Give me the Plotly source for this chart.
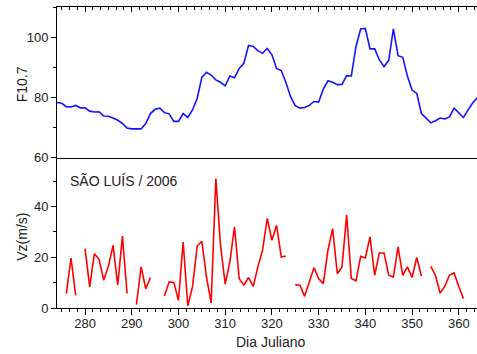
import plotly.graph_objects as go

# ---- data ----
f107_days = list(range(274, 365))
f107 = [78.3, 78.0, 76.9, 76.8, 77.3, 76.5, 76.5, 75.4, 75.1, 75.2,
        73.8, 73.7, 73.1, 72.4, 71.3, 69.8, 69.5, 69.5, 69.5, 71.3,
        74.6, 76.0, 76.4, 74.9, 74.5, 72.0, 72.0, 74.6, 73.3, 75.8,
        79.6, 86.6, 88.3, 87.4, 85.8, 85.0, 83.8, 87.1, 86.5, 89.6,
        91.3, 97.2, 96.9, 95.5, 94.6, 96.2, 94.1, 89.6, 88.9, 84.9,
        80.2, 77.2, 76.4, 76.6, 77.3, 78.6, 78.4, 82.7, 85.5, 85.0,
        84.2, 84.3, 87.2, 87.1, 96.9, 102.7, 102.9, 96.1, 96.1, 92.4,
        90.2, 92.2, 102.7, 93.8, 93.3, 87.1, 82.4, 81.3, 74.6, 73.1,
        71.5, 72.2, 73.1, 72.8, 73.5, 76.4, 75.0, 73.3, 75.8, 78.2, 79.9]

vz_days = list(range(276, 362))
vz = [5.7, 19.7, 5.0, None, 23.4, 8.3, 21.4, 19.2, 10.9, 16.4,
      24.7, 9.0, 28.3, 5.7, None, 1.3, 16.2, 7.6, 12.0, None,
      None, 4.7, 10.3, 10.1, 3.0, 26.0, 0.8, 8.3, 24.3, 26.3,
      12.2, 2.0, 51.0, 24.7, 9.4, 18.2, 32.0, 11.5, 9.0, 12.0,
      8.5, 16.2, 22.8, 35.3, 26.7, 32.6, 20.1, 20.5, None, 9.2,
      9.0, 4.6, 10.3, 15.9, 11.6, 9.6, 22.8, 31.3, 13.5, 16.2,
      36.6, 11.6, 10.7, 20.4, 19.7, 28.0, 12.9, 21.7, 21.7, 12.9,
      12.2, 24.1, 12.9, 16.2, 12.0, 19.9, 12.6, None, 16.4, 12.9,
      5.9, 8.5, 12.9, 13.8, 8.5, 3.7]

x_range = [274, 363.9]
f107_range = [60, 110]
vz_range = [0, 59.3]

FONT = "Arial, Liberation Sans, sans-serif"
TXT = "#222222"

fig = go.Figure()
fig.add_trace(go.Scatter(x=f107_days, y=f107, mode="lines", xaxis="x2", yaxis="y2",
                         line=dict(color="#1414ff", width=1.6), showlegend=False))
fig.add_trace(go.Scatter(x=vz_days, y=vz, mode="lines", xaxis="x", yaxis="y",
                         line=dict(color="#ff0000", width=1.6), connectgaps=False,
                         showlegend=False))

axcommon = dict(showgrid=False, zeroline=False, linecolor="black", linewidth=1,
                tickcolor="black", tickwidth=1,
                tickfont=dict(family=FONT, size=13, color=TXT))

fig.update_layout(
    width=477, height=354,
    margin=dict(l=57, r=0, t=7, b=46, autoexpand=False),
    paper_bgcolor="white", plot_bgcolor="white",
    xaxis=dict(domain=[0, 1], anchor="y", range=x_range, dtick=10, tick0=280,
               ticks="outside", ticklen=6, showline=True, ticklabelstandoff=-3,
               minor=dict(dtick=10/6, tick0=280, ticks="outside", ticklen=3,
                          tickcolor="black", tickwidth=1, showgrid=False),
               **axcommon),
    xaxis3=dict(overlaying="x", anchor="y", side="top", matches="x", range=x_range,
                dtick=10, tick0=280, ticks="inside", ticklen=5, showline=False,
                showticklabels=False,
                minor=dict(dtick=10/6, tick0=280, ticks="inside", ticklen=3,
                           tickcolor="black", tickwidth=1, showgrid=False),
                **axcommon),
    xaxis2=dict(domain=[0, 1], anchor="y2", side="top", matches="x", range=x_range,
                dtick=10, tick0=280, ticks="inside", ticklen=5, showline=True,
                mirror=True, showticklabels=False,
                minor=dict(dtick=10/6, tick0=280, ticks="inside", ticklen=3,
                           tickcolor="black", tickwidth=1, showgrid=False),
                **axcommon),
    yaxis=dict(domain=[0, 0.5], anchor="x", range=vz_range, dtick=20, tick0=0,
               ticks="outside", ticklen=5, showline=True,
               minor=dict(dtick=10, ticks="outside", ticklen=3, tickcolor="black",
                          tickwidth=1, showgrid=False),
               **axcommon),
    yaxis2=dict(domain=[0.5, 1], anchor="x2", range=f107_range, dtick=20, tick0=0,
                ticks="outside", ticklen=5, showline=True,
                minor=dict(dtick=10, ticks="outside", ticklen=3, tickcolor="black",
                           tickwidth=1, showgrid=False),
                **axcommon),
)

tfont = dict(family=FONT, size=14, color=TXT)
fig.add_annotation(text="F10.7", xref="paper", yref="y2 domain", x=0, y=0.5,
                   xshift=-35, yshift=-2, textangle=-90, showarrow=False,
                   xanchor="center", yanchor="middle", font=tfont)
fig.add_annotation(text="Vz(m/s)", xref="paper", yref="y domain", x=0, y=0.5,
                   xshift=-35, yshift=-4, textangle=-90, showarrow=False,
                   xanchor="center", yanchor="middle", font=tfont)
fig.add_annotation(text="Dia Juliano", xref="paper", yref="paper", x=0.5, y=0,
                   xshift=3, yshift=-34, showarrow=False,
                   xanchor="center", yanchor="middle", font=tfont)
fig.add_annotation(text="SÃO LUÍS / 2006", xref="x", yref="y", x=276.3, y=50,
                   showarrow=False, xanchor="left", yanchor="middle", font=tfont)

fig.write_html("out.html")
